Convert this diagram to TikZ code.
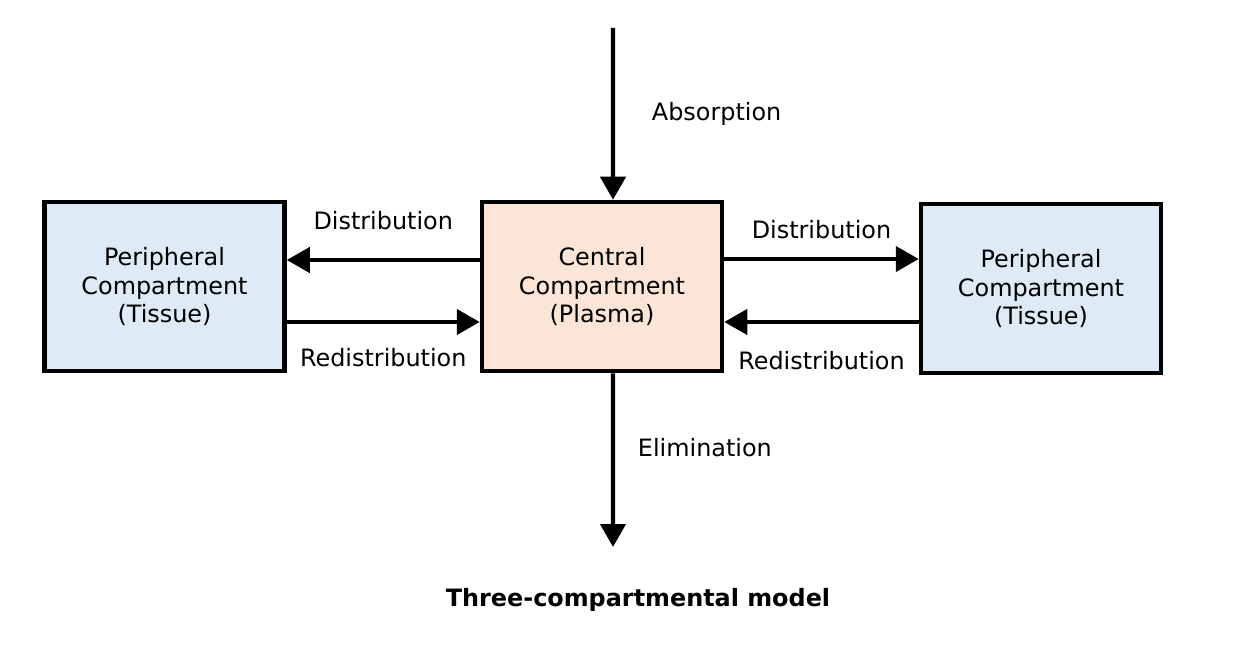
\documentclass[tikz,border=0pt]{standalone}
\usepackage{fontspec}
\setmainfont{DejaVu Sans}
\usetikzlibrary{arrows.meta, positioning}
\definecolor{tissue_blue}{HTML}{DEEAF6}
\definecolor{plasma_peach}{HTML}{FBE5D6}

\begin{document}
\begin{tikzpicture}[
    x=0.02cm, y=-0.02cm,
    comp/.style={draw=black, line width=2.6pt,
                 minimum width=4.8cm, minimum height=3.38cm,
                 font=\fontsize{13.6}{16.4}\selectfont, align=center},
    arr/.style={-{Triangle[length=0.46cm, width=0.5cm]}, line width=2.4pt},
    lbl/.style={font=\fontsize{13.6}{16.4}\selectfont},
  ]
  \useasboundingbox (0,0) rectangle (1246,662);
  \node[comp, fill=tissue_blue]  (tisL)   at (164.5,286.5)
    {Peripheral\\Compartment\\(Tissue)};
  \node[comp, fill=plasma_peach] (plasma) at (602,286.5)
    {Central\\Compartment\\(Plasma)};
  \node[comp, fill=tissue_blue]  (tisR)   at (1041,288.5)
    {Peripheral\\Compartment\\(Tissue)};
  \coordinate (dose) at (613,28);
  \coordinate (out)  at (613,547);
  \draw[arr] (dose) -- ([xshift=0.22cm]plasma.north)
    node[midway, right=0.62cm, lbl] {Absorption};
  \draw[arr] ([xshift=0.22cm]plasma.south) -- (out)
    node[pos=0.43, right=0.34cm, lbl] {Elimination};
  \draw[arr] ([yshift=0.53cm]plasma.west) -- ([yshift=0.53cm]plasma.west -| tisL.east)
    node[midway, yshift=0.78cm, lbl] {Distribution};
  \draw[arr] ([yshift=-0.71cm]tisL.east) -- ([yshift=-0.71cm]tisL.east -| plasma.west)
    node[midway, yshift=-0.72cm, lbl] {Redistribution};
  \draw[arr] ([yshift=0.55cm]plasma.east) -- ([yshift=0.55cm]plasma.east -| tisR.west)
    node[midway, yshift=0.58cm, lbl] {Distribution};
  \draw[arr] ([yshift=-0.67cm]tisR.west) -- ([yshift=-0.67cm]tisR.west -| plasma.east)
    node[midway, yshift=-0.78cm, lbl] {Redistribution};
  \node[font=\fontsize{13.6}{16.4}\selectfont\bfseries] (title) at (638,600)
    {Three-compartmental model};
\end{tikzpicture}
\end{document}
